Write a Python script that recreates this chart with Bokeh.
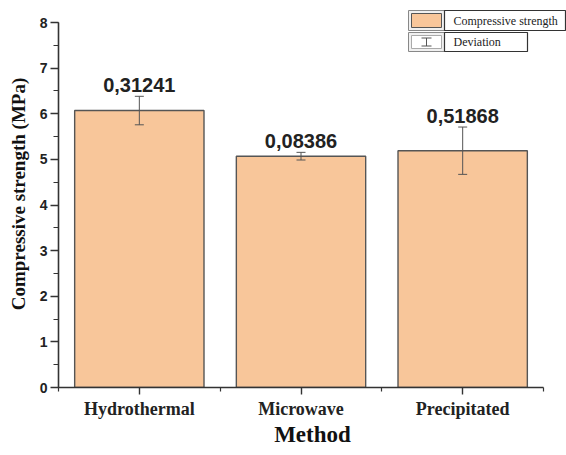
from bokeh.plotting import figure
from bokeh.models import (Range1d, FixedTicker, SingleIntervalTicker, Whisker, TeeHead,
                          ColumnDataSource)
from bokeh.core.properties import value
from bokeh.embed import file_html
from bokeh.resources import INLINE
import numpy as np

# ---- data ----
methods = ["Hydrothermal", "Microwave", "Precipitated"]
strength = [6.07, 5.07, 5.19]
deviation = [0.31241, 0.08386, 0.51868]
dev_labels = ["0,31241", "0,08386", "0,51868"]
legend_labels = ["Compressive strength", "Deviation"]

BAR_COLOR = "#F8C69A"
EDGE = "#555555"
AXIS = "#333333"

# ---- layout constants (pixels) ----
W, H = 566, 455
FRAME_L = 58          # canvas px of frame left
FRAME_B = 68          # canvas px below frame
PX_X = 161.67         # px per category unit
PX_Y = 45.625         # px per MPa
frame_w = W - FRAME_L
frame_h = H - FRAME_B

x_end = frame_w / PX_X
y_end = frame_h / PX_Y

p = figure(width=W, height=H, output_backend="svg", toolbar_location=None,
           x_range=Range1d(0, x_end), y_range=Range1d(0, y_end),
           min_border_left=FRAME_L, min_border_right=0, min_border_top=0,
           min_border_bottom=FRAME_B)
p.outline_line_color = None
p.xgrid.visible = False
p.ygrid.visible = False
p.background_fill_color = "white"

xs = np.arange(len(methods)) + 0.5
src = ColumnDataSource(dict(
    x=xs, top=strength, dev=deviation,
    upper=np.array(strength) + np.array(deviation),
    lower=np.array(strength) - np.array(deviation),
    lab=dev_labels,
))

p.vbar(x="x", top="top", width=0.8, bottom=0, source=src,
       fill_color=BAR_COLOR, line_color=EDGE, line_width=1.4)

wh = Whisker(base="x", upper="upper", lower="lower", source=src,
             line_color=EDGE, line_width=1, level="overlay",
             upper_head=TeeHead(size=9, line_color=EDGE, line_width=1),
             lower_head=TeeHead(size=9, line_color=EDGE, line_width=1))
p.add_layout(wh)

p.text(x="x", y="upper", text="lab", source=src, text_align="center",
       text_baseline="alphabetic", y_offset=-11,
       text_font=value("Liberation Sans"), text_font_style="bold",
       text_font_size="20px", text_color="#222222")

# ---- axes ----
ya = p.yaxis[0]
ya.bounds = (0, 8)
ya.ticker = SingleIntervalTicker(interval=1, num_minor_ticks=2)
ya.axis_line_width = 1.6
ya.axis_line_color = AXIS
ya.major_tick_line_color = AXIS
ya.minor_tick_line_color = AXIS
ya.major_tick_line_width = 1.4
ya.minor_tick_line_width = 1.2
ya.major_tick_in = 0
ya.major_tick_out = 8
ya.minor_tick_in = 0
ya.minor_tick_out = 5
ya.major_label_text_font = "Liberation Sans"
ya.major_label_text_font_style = "bold"
ya.major_label_text_font_size = "14px"
ya.major_label_text_color = "#222222"
ya.major_label_standoff = 3
ya.axis_label = "Compressive strength (MPa)"
ya.axis_label_text_font = "Liberation Serif"
ya.axis_label_text_font_style = "bold"
ya.axis_label_text_font_size = "19px"
ya.axis_label_text_color = "#111111"
ya.axis_label_standoff = 8

xa = p.xaxis[0]
xa.bounds = (0, len(methods))
xa.ticker = FixedTicker(ticks=list(xs), minor_ticks=list(range(len(methods) + 1)))
xa.major_label_overrides = {float(x): m for x, m in zip(xs, methods)}
xa.axis_line_width = 1.6
xa.axis_line_color = AXIS
xa.major_tick_line_color = AXIS
xa.minor_tick_line_color = AXIS
xa.major_tick_line_width = 1.4
xa.minor_tick_line_width = 1.2
xa.major_tick_in = 0
xa.major_tick_out = 7
xa.minor_tick_in = 0
xa.minor_tick_out = 4
xa.major_label_text_font = "Liberation Serif"
xa.major_label_text_font_style = "bold"
xa.major_label_text_font_size = "18px"
xa.major_label_text_color = "#222222"
xa.major_label_standoff = 4
xa.axis_label = "Method"
xa.axis_label_text_font = "Liberation Serif"
xa.axis_label_text_font_style = "bold"
xa.axis_label_text_font_size = "23px"
xa.axis_label_text_color = "#111111"
xa.axis_label_standoff = 0

# ---- legend (drawn manually, positions in canvas pixels from top-left) ----
def dx(px):
    return (px - FRAME_L) / PX_X

def dy(py):
    return (frame_h - py) / PX_Y

sw_l, sw_r, tb_r1, tb_r2 = 408, 444, 565, 527
r1_t, r1_b, r2_t, r2_b = 10, 30, 32, 51

p.quad(left=[dx(sw_l)], right=[dx(sw_r)], top=[dy(r1_t)], bottom=[dy(r1_b)],
       fill_color="#F0F0F0", line_color="#888888", line_width=1)
p.quad(left=[dx(sw_l + 3)], right=[dx(sw_r - 3)], top=[dy(r1_t + 3)], bottom=[dy(r1_b - 3)],
       fill_color=BAR_COLOR, line_color=EDGE, line_width=1)
p.quad(left=[dx(sw_r)], right=[dx(tb_r1)], top=[dy(r1_t)], bottom=[dy(r1_b)],
       fill_color="white", line_color="#333333", line_width=1.2)
p.quad(left=[dx(sw_l)], right=[dx(sw_r)], top=[dy(r2_t)], bottom=[dy(r2_b)],
       fill_color="#F0F0F0", line_color="#888888", line_width=1)
p.quad(left=[dx(sw_l + 3)], right=[dx(sw_r - 3)], top=[dy(r2_t + 3)], bottom=[dy(r2_b - 3)],
       fill_color="white", line_color="#AAAAAA", line_width=1)
cx = (sw_l + sw_r) / 2
cy = (r2_t + r2_b) / 2
p.segment(x0=[dx(cx)], x1=[dx(cx)], y0=[dy(cy - 4)], y1=[dy(cy + 4)], line_color="#555555", line_width=1)
p.segment(x0=[dx(cx - 5), dx(cx - 5)], x1=[dx(cx + 5), dx(cx + 5)],
          y0=[dy(cy - 4), dy(cy + 4)], y1=[dy(cy - 4), dy(cy + 4)], line_color="#555555", line_width=1)
p.quad(left=[dx(sw_r)], right=[dx(tb_r2)], top=[dy(r2_t)], bottom=[dy(r2_b)],
       fill_color="white", line_color="#333333", line_width=1.2)

p.text(x=[dx(sw_r + 9), dx(sw_r + 9)], y=[dy((r1_t + r1_b) / 2), dy(cy)],
       text=legend_labels, text_align="left", text_baseline="middle",
       text_font=value("Liberation Serif"), text_font_size="12px", text_color="#222222")

open("out.html", "w").write(file_html(p, INLINE))
